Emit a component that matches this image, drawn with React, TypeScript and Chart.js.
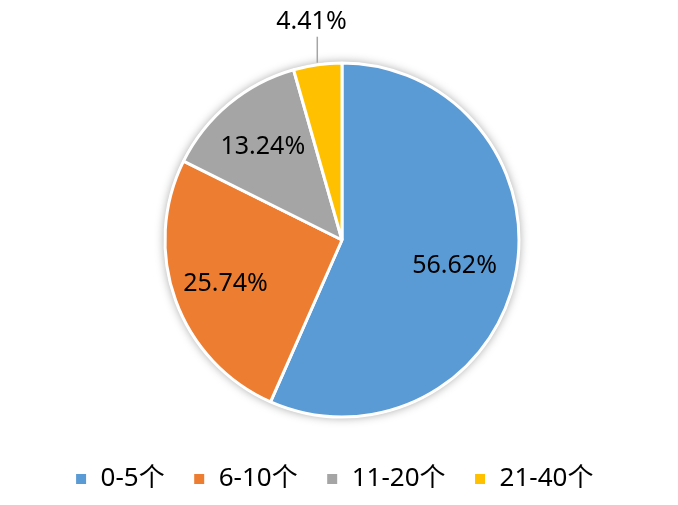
import React, { useEffect, useRef } from "react";
import { Chart, registerables } from "chart.js";

Chart.register(...registerables);

const categories = ["0-5个", "6-10个", "11-20个", "21-40个"];
const percentValues = [56.62, 25.74, 13.24, 4.41];
const sliceColors = ["#5B9BD5", "#ED7D31", "#A5A5A5", "#FFC000"];

const FONT = "'Noto Sans', 'Noto Sans CJK SC', sans-serif";
const LEGEND_PAD = 28;
const LEGEND_SIZE = 26;

const layoutPlugin = {
  id: "fixLayout",
  afterLayout(chart: any) {
    const ca = chart.chartArea;
    ca.left = 166;
    ca.right = 518;
    ca.top = 64;
    ca.bottom = 416;
    ca.width = 352;
    ca.height = 352;
    const lg = chart.legend;
    if (lg) {
      const h = lg.bottom - lg.top;
      const w = lg.right - lg.left;
      const dx = -5;
      lg.left += dx;
      lg.right = lg.left + w;
      lg.top = 479 - LEGEND_PAD - LEGEND_SIZE / 2;
      lg.bottom = lg.top + h;
    }
  },
};

const labelPlugin = {
  id: "pieLabels",
  beforeDatasetsDraw(chart: any) {
    const ctx = chart.ctx;
    const meta = chart.getDatasetMeta(0);
    const arc = meta.data[0];
    if (!arc) return;
    ctx.save();
    ctx.shadowColor = "rgba(0,0,0,0.35)";
    ctx.shadowBlur = 10;
    ctx.fillStyle = "#fff";
    ctx.beginPath();
    ctx.arc(arc.x, arc.y, arc.outerRadius + 1, 0, Math.PI * 2);
    ctx.fill();
    ctx.restore();
  },
  afterDatasetsDraw(chart: any) {
    const ctx = chart.ctx;
    const meta = chart.getDatasetMeta(0);
    const data = chart.data.datasets[0].data as number[];
    ctx.save();
    ctx.font = `25px ${FONT}`;
    ctx.fillStyle = "#000";
    ctx.textAlign = "center";
    ctx.textBaseline = "middle";
    meta.data.forEach((el: any, i: number) => {
      const mid = (el.startAngle + el.endAngle) / 2;
      const r = el.outerRadius;
      const text = data[i].toFixed(2) + "%";
      if (data[i] < 8) {
        const ex = el.x + Math.cos(mid) * (r + 2);
        const ey = el.y + Math.sin(mid) * (r + 2);
        ctx.strokeStyle = "#A5A5A5";
        ctx.lineWidth = 1.5;
        ctx.beginPath();
        ctx.moveTo(ex, ey);
        ctx.lineTo(ex, ey - 26);
        ctx.stroke();
        ctx.fillText(text, el.x + Math.cos(mid) * (r + 44), el.y + Math.sin(mid) * (r + 44) + 1);
      } else {
        const f = data[i] > 50 ? 0.65 : 0.7;
        ctx.fillText(text, el.x + Math.cos(mid) * r * f, el.y + Math.sin(mid) * r * f + 2);
      }
    });
    ctx.restore();
  },
};

export default function App() {
  const ref = useRef<HTMLCanvasElement>(null);
  useEffect(() => {
    if (!ref.current) return;
    const chart = new Chart(ref.current, {
      type: "pie",
      data: {
        labels: categories,
        datasets: [
          {
            data: percentValues,
            backgroundColor: sliceColors,
            borderColor: "#fff",
            borderWidth: 3,
            radius: 177,
          },
        ],
      },
      options: {
        responsive: false,
        animation: false,
        plugins: {
          tooltip: { enabled: false },
          legend: {
            position: "bottom",
            labels: {
              boxWidth: 13,
              boxHeight: 13,
              padding: LEGEND_PAD,
              color: "#000",
              font: { family: FONT, size: LEGEND_SIZE },
            },
          },
        },
      },
      plugins: [layoutPlugin, labelPlugin],
    });
    return () => chart.destroy();
  }, []);
  return (
    <div style={{ position: "absolute", left: 0, top: 0, width: 678, height: 505, background: "#fff" }}>
      <canvas ref={ref} width={678} height={505} />
    </div>
  );
}
